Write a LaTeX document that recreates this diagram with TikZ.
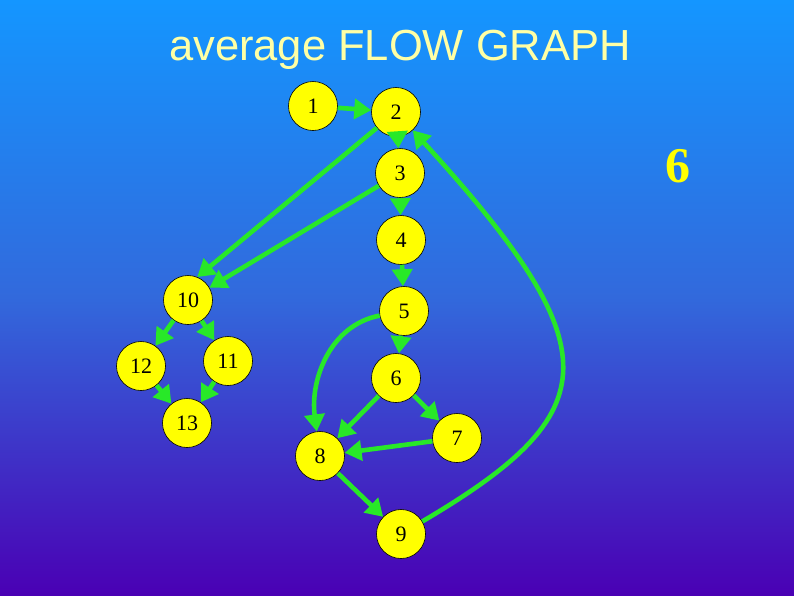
\documentclass[tikz,border=0pt]{standalone}
\usepackage{fontspec}
\setmainfont{Liberation Serif}
\newfontfamily\titlefont{Liberation Sans}
\usetikzlibrary{arrows.meta}
\definecolor{skytop}{RGB}{20,150,255}
\definecolor{skymid}{RGB}{50,105,220}
\definecolor{skybot}{RGB}{74,0,180}
\definecolor{flowgreen}{RGB}{40,232,40}
\definecolor{nodeyellow}{RGB}{255,255,0}
\definecolor{titleyellow}{RGB}{255,255,165}

\begin{document}
\begin{tikzpicture}[
		x=1pt, y=-1pt,
		vertex/.style={circle,draw=black,line width=0.6pt,fill=nodeyellow,minimum size=49pt,inner sep=0pt,font=\fontsize{22}{22}\selectfont},
		edge/.style={draw=flowgreen,line width=4.6pt,-{Triangle[length=17pt,width=20pt]}},
		title/.style={text=titleyellow,font=\titlefont\fontsize{43.5}{43.5}\selectfont},
		bignum/.style={text=nodeyellow,font=\bfseries\fontsize{50}{50}\selectfont}
		]
		\shade[top color=skytop,bottom color=skybot,middle color=skymid] (0,0) rectangle (794,595);
		\node[title] (head) at (400,50) {average FLOW GRAPH};
		\node[bignum] (count) at (678,166) {6};
		
		\node[vertex] (n1) at (313,106) {1};
		\node[vertex] (n2) at (396,112) {2};
		\node[vertex] (n3) at (400,173) {3};
		\node[vertex] (n4) at (401,240) {4};
		\node[vertex] (n5) at (404,311) {5};
		\node[vertex] (n6) at (396,378) {6};
		\node[vertex] (n7) at (457,438) {7};
		\node[vertex] (n8) at (320,456) {8};
		\node[vertex] (n9) at (401,534) {9};
		\node[vertex] (n10) at (188,300) {10};
		\node[vertex] (n11) at (228,361) {11};
		\node[vertex] (n12) at (141,366) {12};
		\node[vertex] (n13) at (187,423) {13};
		
		\draw[edge] (n1) -- (n2);
		\draw[edge] (n2) -- (n3);
		\draw[edge] (n3) -- (n4);
		\draw[edge] (n4) -- (n5);
		\draw[edge] (n5) -- (n6);
		\draw[edge] (n6) -- (n7);
		\draw[edge] (n6) -- (n8);
		\draw[edge] (n7) -- (n8);
		\draw[edge] (n8) -- (n9);
		\draw[edge] (n5) .. controls (330,325) and (310,380) .. (n8);
		\draw[edge] (n9) .. controls (608,412) and (612,349) .. (n2);
		\draw[edge] (n2) -- (n10.68);
		\draw[edge] (n3) -- (n10.30);
		\draw[edge] (n10) -- (n12);
		\draw[edge] (n10) -- (n11);
		\draw[edge] (n12) -- (n13);
		\draw[edge] (n11) -- (n13);
	\end{tikzpicture}
\end{document}
